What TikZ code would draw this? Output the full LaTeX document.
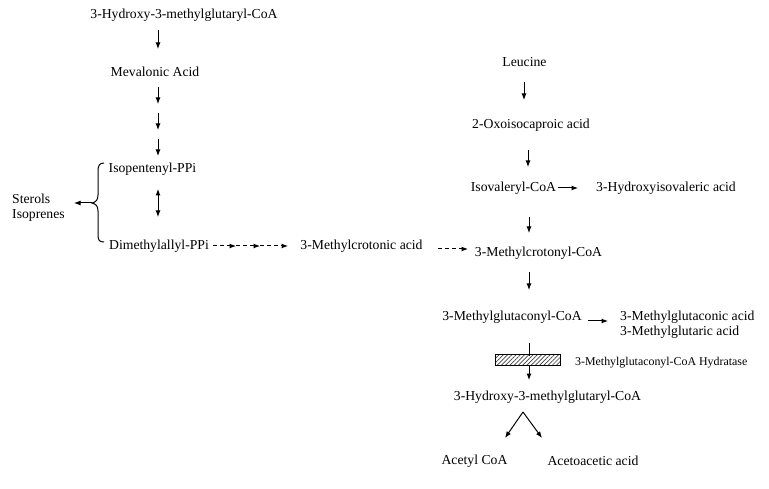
\documentclass[tikz,border=0pt]{standalone}
\usepackage{fontspec}
\setmainfont{Liberation Serif}
\usetikzlibrary{arrows.meta,patterns.meta}
\begin{document}
\begin{tikzpicture}[x=1pt,y=-1pt,
  lbl/.style={inner sep=0pt,font=\fontsize{13.7}{15}\selectfont},
  small/.style={inner sep=0pt,font=\fontsize{11.9}{14}\selectfont},
  arr/.style={line width=1pt,-{Latex[length=6.5pt,width=5pt]}},
  dbl/.style={line width=1pt,{Latex[length=6.5pt,width=5pt]}-{Latex[length=6.5pt,width=5pt]}},
  darr/.style={arr,dash pattern=on 4pt off 3pt},
  ln/.style={line width=1pt}]
\useasboundingbox (0,0) rectangle (769,489);
% nodes
\node[lbl] (hmgA) at (184,15) {3-Hydroxy-3-methylglutaryl-CoA};
\node[lbl] (mev) at (155,72) {Mevalonic Acid};
\node[lbl] (ipp) at (152.5,169) {Isopentenyl-PPi};
\node[lbl] (dma) at (159,246) {Dimethylallyl-PPi};
\node[lbl,align=left,anchor=west] (ster) at (12,208) {Sterols\\Isoprenes};
\node[lbl] (mca) at (361.5,246) {3-Methylcrotonic acid};
\node[lbl] (leu) at (524.5,62) {Leucine};
\node[lbl] (oxo) at (531,125) {2-Oxoisocaproic acid};
\node[lbl] (iva) at (513.5,188) {Isovaleryl-CoA};
\node[lbl] (hiva) at (666,188) {3-Hydroxyisovaleric acid};
\node[lbl] (mcc) at (538.5,253) {3-Methylcrotonyl-CoA};
\node[lbl] (mgc) at (512,317) {3-Methylglutaconyl-CoA};
\node[lbl,align=left,anchor=west] (mga) at (620,325) {3-Methylglutaconic acid\\3-Methylglutaric acid};
\node[small,anchor=west] (hyd) at (575,363) {3-Methylglutaconyl-CoA Hydratase};
\node[lbl] (hmgB) at (547.5,397) {3-Hydroxy-3-methylglutaryl-CoA};
\node[lbl] (acoa) at (474.5,461) {Acetyl CoA};
\node[lbl] (aca) at (593,461) {Acetoacetic acid};
% connector ends
\coordinate (a1s) at (158,30);  \coordinate (a1e) at (158,49);
\coordinate (a2s) at (158,87);  \coordinate (a2e) at (158,104);
\coordinate (a3s) at (158,113); \coordinate (a3e) at (158,130);
\coordinate (a4s) at (158,139); \coordinate (a4e) at (158,156);
\coordinate (d1) at (158,189);  \coordinate (d2) at (158,217);
\coordinate (btip) at (92,203); \coordinate (sa) at (74,203);
\coordinate (c0) at (213,246); \coordinate (c1) at (236,246);
\coordinate (c2) at (260,246); \coordinate (c3) at (288,246);
\coordinate (c4) at (438,249); \coordinate (c5) at (468,249);
\coordinate (r1s) at (524,82);  \coordinate (r1e) at (524,100);
\coordinate (r2s) at (528,150); \coordinate (r2e) at (528,167);
\coordinate (h1s) at (558,188); \coordinate (h1e) at (578,188);
\coordinate (r3s) at (529,217); \coordinate (r3e) at (529,233);
\coordinate (r4s) at (529,272); \coordinate (r4e) at (529,290);
\coordinate (h2s) at (588,321); \coordinate (h2e) at (608,321);
\coordinate (r5s) at (529,343); \coordinate (r5e) at (529,380);
\coordinate (apex) at (523,412);
\coordinate (lft) at (505,438); \coordinate (rgt) at (542,438);
% hatched box
\draw[ln] (r5s) -- (529,356);
\node[draw,line width=1pt,pattern={Lines[angle=45,distance=3pt,line width=0.7pt]},pattern color=black!75,
      minimum width=65pt,minimum height=11pt,inner sep=0pt] (hbox) at (527.5,360) {};
\draw[arr] (hbox.south -| r5e) -- (r5e);
% left column arrows
\draw[arr] (a1s) -- (a1e);
\draw[arr] (a2s) -- (a2e);
\draw[arr] (a3s) -- (a3e);
\draw[arr] (a4s) -- (a4e);
\draw[dbl] (d1) -- (d2);
% brace
\draw[ln] (104,163) .. controls (99,163) and (98,166) .. (98,172) -- (98,195)
  .. controls (98,200) and (96,202) .. (btip)
  .. controls (96,204) and (98,206) .. (98,211) -- (98,234)
  .. controls (98,240) and (99,242) .. (104,242);
\draw[arr] (btip) -- (sa);
% dashed chain
\draw[darr] (c0) -- (c1);
\draw[darr] (c1) -- (c2);
\draw[darr] (c2) -- (c3);
\draw[darr] (c4) -- (c5);
% right column arrows
\draw[arr] (r1s) -- (r1e);
\draw[arr] (r2s) -- (r2e);
\draw[arr] (h1s) -- (h1e);
\draw[arr] (r3s) -- (r3e);
\draw[arr] (r4s) -- (r4e);
\draw[arr] (h2s) -- (h2e);
\draw[arr] (apex) -- (lft);
\draw[arr] (apex) -- (rgt);
\end{tikzpicture}
\end{document}
